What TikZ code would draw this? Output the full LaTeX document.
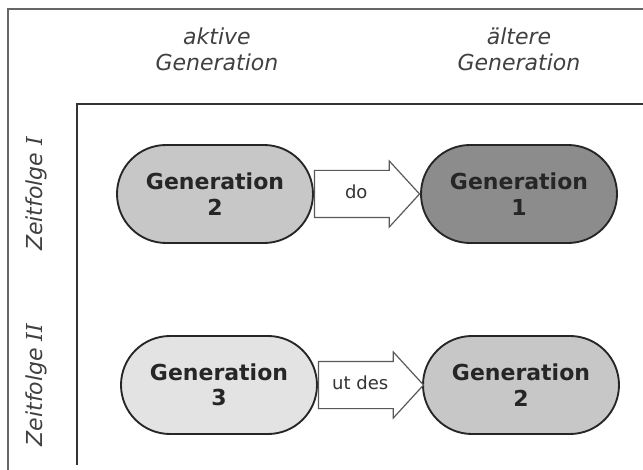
\documentclass[tikz,border=0pt]{standalone}
\usepackage{fontspec}
\setmainfont{DejaVu Sans}
\newfontfamily\romnum{DejaVu Serif}
\usetikzlibrary{shapes,arrows,positioning}
\usepackage{xcolor}
\definecolor{genpale}{gray}{0.89}
\definecolor{genmid}{gray}{0.78}
\definecolor{gendark}{gray}{0.55}
\definecolor{framegray}{gray}{0.4}

\begin{document}
\begin{tikzpicture}[x=0.75pt,y=-0.75pt,
		gen/.style={rounded rectangle,draw=black!85,line width=1.4pt,minimum width=147pt,minimum height=73.5pt,inner sep=0pt,align=center,text=black!85,font=\fontsize{16.5}{19}\selectfont\bfseries},
		give/.style={single arrow,draw=black!65,line width=0.9pt,fill=white,single arrow head extend=7.1pt,single arrow tip angle=95,minimum height=78.75pt,minimum width=48.75pt,text height=9.5pt,text depth=3pt,inner ysep=11pt,inner xsep=8pt,text=black!80,font=\fontsize{13.5}{16}\selectfont},
		head/.style={align=center,text=black!75,font=\fontsize{16.5}{19.5}\selectfont\itshape}]
		\useasboundingbox (0,0) rectangle (643,470);
		\draw[framegray,line width=1.5pt] (8,470) -- (8,9) -- (643,9);
		\draw[black!80,line width=1.8pt] (77,465) -- (77,104) -- (643,104);
		\node[head] (hdaktiv) at (217,49) {aktive\\Generation};
		\node[head] (hdalt) at (519,49) {ältere\\Generation};
		\node[head,rotate=90] (zfeins) at (36,194) {Zeitfolge {\romnum I}};
		\node[head,rotate=90] (zfzwei) at (36,385) {Zeitfolge {\romnum II}};
		\node[gen,fill=genmid] (topzwei) at (215,194) {Generation\\2};
		\node[gen,fill=gendark] (topeins) at (519,194) {Generation\\1};
		\node[gen,fill=genpale] (botdrei) at (219,385) {Generation\\3};
		\node[gen,fill=genmid] (botzwei) at (521,385) {Generation\\2};
		\node[give,right=0pt of topzwei] (do) {do};
		\node[give,right=0pt of botdrei] (utdes) {ut des};
		\end{tikzpicture}
\end{document}
